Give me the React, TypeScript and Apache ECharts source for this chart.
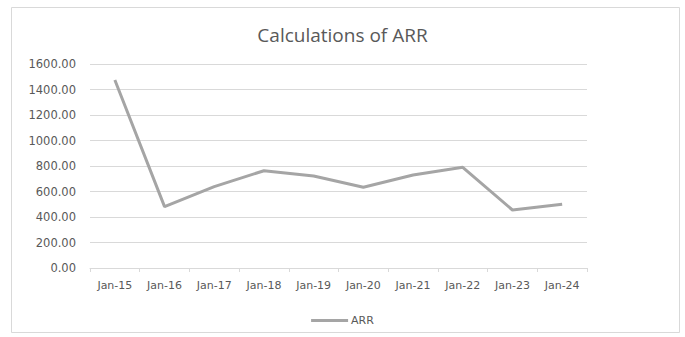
import React, { useEffect, useRef } from "react";
import * as echarts from "echarts";

const categories = ["Jan-15", "Jan-16", "Jan-17", "Jan-18", "Jan-19", "Jan-20", "Jan-21", "Jan-22", "Jan-23", "Jan-24"];
const arrValues = [1474, 481, 638, 763, 722, 633, 729, 790, 455, 500];
const seriesName = "ARR";
const chartTitle = "Calculations of ARR";

export default function App() {
  const ref = useRef<HTMLDivElement>(null);
  useEffect(() => {
    if (!ref.current) return;
    const chart = echarts.init(ref.current, undefined, { renderer: "svg" });
    chart.setOption({
      animation: false,
      backgroundColor: "#ffffff",
      title: {
        text: chartTitle,
        left: "center",
        top: 20,
        textStyle: { fontFamily: "Open Sans", fontSize: 19, fontWeight: "normal", color: "#595959" },
      },
      graphic: [
        {
          type: "rect",
          shape: { x: 11.5, y: 7.5, width: 668, height: 325 },
          style: { fill: "none", stroke: "#d9d9d9", lineWidth: 1 },
          silent: true,
        },
      ],
      legend: {
        data: [seriesName],
        left: "center",
        top: 310,
        icon: "rect",
        itemWidth: 37,
        itemHeight: 3,
        itemGap: 4,
        textStyle: { fontFamily: "DejaVu Sans", fontSize: 11, color: "#595959", padding: [0, 0, 0, -2] },
      },
      grid: { left: 90, right: 98, top: 64, bottom: 69 },
      xAxis: {
        type: "category",
        data: categories,
        boundaryGap: true,
        axisLine: { lineStyle: { color: "#d9d9d9" } },
        axisTick: { show: true, length: 4, lineStyle: { color: "#d9d9d9" } },
        axisLabel: { fontFamily: "DejaVu Sans", fontSize: 11, color: "#595959", margin: 12 },
      },
      yAxis: {
        type: "value",
        min: 0,
        max: 1600,
        interval: 200,
        axisLine: { show: false },
        axisTick: { show: false },
        splitLine: { lineStyle: { color: "#d9d9d9" } },
        axisLabel: {
          fontFamily: "DejaVu Sans",
          fontSize: 11.5,
          color: "#595959",
          margin: 14,
          formatter: (v: number) => v.toFixed(2),
        },
      },
      series: [
        {
          name: seriesName,
          type: "line",
          data: arrValues,
          symbol: "none",
          lineStyle: { color: "#a5a5a5", width: 3 },
          itemStyle: { color: "#a5a5a5" },
        },
      ],
    });
    return () => chart.dispose();
  }, []);
  return (
    <div style={{ position: "fixed", left: 0, top: 0, width: 685, height: 337, background: "#fff" }}>
      <div ref={ref} style={{ width: 685, height: 337 }} />
    </div>
  );
}
